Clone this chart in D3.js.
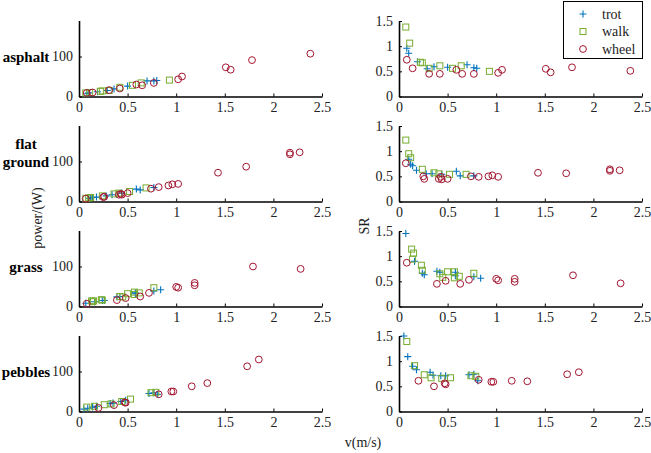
<!DOCTYPE html>
<html>
<head>
<meta charset="utf-8">
<script src="https://cdn.jsdelivr.net/npm/d3@7"></script>
<style>
  body { margin: 0; background: #fff; }
  svg text { font-family: "Liberation Serif", "Times New Roman", serif !important; }
</style>
</head>
<body>
<div id="chart"></div>
<script>
// terrains (rows) and gaits (series)
const terrains = [["asphalt"], ["flat", "ground"], ["grass"], ["pebbles"]];
const gaits = ["trot", "walk", "wheel"];
const xTicks = [0, 0.5, 1, 1.5, 2, 2.5];
const powerTicks = [0, 100];
const srTicks = [0, 0.5, 1, 1.5];

// speed v (m/s), one inner array per terrain
const trotV = [
  [0.08, 0.10, 0.19, 0.29, 0.36, 0.50, 0.70, 0.77, 0.80],
  [0.10, 0.12, 0.14, 0.18, 0.28, 0.34, 0.44, 0.59, 0.63, 0.77],
  [0.07, 0.16, 0.24, 0.26, 0.39, 0.42, 0.58, 0.58, 0.77, 0.84],
  [0.05, 0.09, 0.14, 0.18, 0.32, 0.35, 0.43, 0.48, 0.72, 0.77, 0.81]
];
const trotP = [
  [7, 9, 12, 15, 19, 26, 39, 39, 40],
  [8, 9, 10, 11, 14, 17, 21, 31, 29, 35],
  [8, 12, 15, 15, 24, 25, 34, 32, 39, 42],
  [6, 8, 11, 13, 20, 21, 25, 28, 45, 47, 43]
];
const trotSR = [
  [0.96, 0.86, 0.69, 0.55, 0.59, 0.58, 0.63, 0.57, 0.56],
  [0.84, 0.74, 0.71, 0.62, 0.55, 0.55, 0.54, 0.60, 0.51, 0.51],
  [1.45, 0.90, 0.66, 0.63, 0.70, 0.68, 0.68, 0.61, 0.59, 0.56],
  [1.50, 1.09, 0.90, 0.83, 0.78, 0.72, 0.71, 0.71, 0.73, 0.74, 0.61]
];

const walkV = [
  [0.07, 0.11, 0.22, 0.24, 0.31, 0.42, 0.55, 0.64, 0.93],
  [0.07, 0.10, 0.12, 0.24, 0.36, 0.41, 0.52, 0.69],
  [0.13, 0.15, 0.14, 0.23, 0.24, 0.42, 0.45, 0.50, 0.57, 0.57, 0.62, 0.77],
  [0.08, 0.16, 0.26, 0.33, 0.44, 0.53, 0.74, 0.79]
];
const walkP = [
  [9, 10, 13, 14, 15, 23, 28, 34, 41],
  [8, 9, 10, 14, 19, 21, 25, 34],
  [14, 14, 12, 17, 16, 25, 24, 32, 36, 30, 34, 47],
  [11, 13, 17, 19, 25, 31, 47, 48]
];
const walkSR = [
  [1.38, 1.06, 0.68, 0.67, 0.56, 0.61, 0.56, 0.61, 0.50],
  [1.22, 0.95, 0.87, 0.64, 0.57, 0.55, 0.54, 0.54],
  [1.14, 1.06, 0.94, 0.82, 0.72, 0.65, 0.58, 0.69, 0.69, 0.57, 0.60, 0.66],
  [1.39, 0.91, 0.73, 0.67, 0.66, 0.67, 0.71, 0.70]
];

const wheelV = [
  [0.08, 0.14, 0.31, 0.42, 0.59, 0.65, 0.77, 1.02, 1.06, 1.51, 1.56, 1.78, 2.38],
  [0.07, 0.25, 0.26, 0.41, 0.43, 0.44, 0.50, 0.74, 0.82, 0.92, 0.96, 1.02, 1.43, 1.72, 2.17, 2.17, 2.27],
  [0.08, 0.39, 0.48, 0.63, 0.72, 1.00, 1.02, 1.19, 1.19, 1.79, 2.28],
  [0.20, 0.36, 0.47, 0.48, 0.82, 0.95, 0.97, 1.16, 1.32, 1.73, 1.85]
];
const wheelP = [
  [9, 10, 16, 20, 30, 28, 34, 43, 50, 73, 67, 91, 107],
  [7, 11, 12, 17, 19, 17, 21, 32, 36, 40, 43, 44, 72, 87, 122, 118, 123],
  [7, 16, 21, 25, 34, 49, 47, 59, 53, 100, 94],
  [9, 16, 23, 22, 43, 50, 50, 63, 71, 113, 130]
];
const wheelSR = [
  [0.73, 0.56, 0.45, 0.45, 0.53, 0.45, 0.45, 0.47, 0.53, 0.55, 0.48, 0.58, 0.51],
  [0.76, 0.50, 0.45, 0.45, 0.49, 0.44, 0.45, 0.50, 0.49, 0.50, 0.52, 0.49, 0.57, 0.56, 0.64, 0.61, 0.62],
  [0.87, 0.45, 0.51, 0.45, 0.53, 0.55, 0.52, 0.55, 0.49, 0.62, 0.46],
  [0.61, 0.50, 0.56, 0.54, 0.63, 0.59, 0.59, 0.61, 0.60, 0.74, 0.78]
];

const seriesV = [trotV, walkV, wheelV];
const seriesP = [trotP, walkP, wheelP];
const seriesSR = [trotSR, walkSR, wheelSR];
const colors = ["#0072BD", "#77AC30", "#A2142F"];

const width = 651, height = 453;
const svg = d3.select("#chart").append("svg")
  .attr("width", width)
  .attr("height", height)
  .attr("font-family", "Liberation Serif, serif");

const panelH = 76, rowStep = 105, firstBottom = 96.5;

const xLeft = d3.scaleLinear().domain([0, 2.5]).range([79, 322]);
const xRight = d3.scaleLinear().domain([0, 2.5]).range([399, 642]);

function marker(g, kind, color) {
  if (kind === 0) {
    g.append("path").attr("d", "M-3.5,0H3.5M0,-3.5V3.5")
      .attr("stroke", color).attr("stroke-width", 1.1).attr("fill", "none");
  } else if (kind === 1) {
    g.append("rect").attr("x", -3).attr("y", -3).attr("width", 6).attr("height", 6)
      .attr("stroke", color).attr("stroke-width", 1).attr("fill", "none");
  } else {
    g.append("circle").attr("r", 3.4)
      .attr("stroke", color).attr("stroke-width", 1).attr("fill", "none");
  }
}

function styleAxis(g) {
  g.attr("font-family", null);
  g.selectAll("path").attr("stroke", "#000").attr("stroke-width", 1.6);
  g.selectAll("line").attr("stroke", "#000").attr("stroke-width", 1);
  g.selectAll("text").attr("font-size", 14).attr("fill", "#222");
}

terrains.forEach((lines, t) => {
  const bottom = firstBottom + t * rowStep;
  const top = bottom - panelH;
  const yP = d3.scaleLinear().domain([0, 190]).range([bottom, top]);
  const yS = d3.scaleLinear().domain([0, 1.5]).range([bottom, top + 0.5]);

  // left: power
  const gl = svg.append("g");
  gl.append("g").attr("transform", `translate(0,${bottom})`)
    .call(d3.axisBottom(xLeft).tickValues(xTicks).tickFormat(d3.format("")).tickSize(-3).tickSizeOuter(0).tickPadding(6))
    .call(styleAxis);
  gl.append("g").attr("transform", `translate(${xLeft(0)},0)`)
    .call(d3.axisLeft(yP).tickValues(powerTicks).tickSize(-3).tickSizeOuter(0).tickPadding(6))
    .call(styleAxis);

  // right: SR
  const gr = svg.append("g");
  gr.append("g").attr("transform", `translate(0,${bottom})`)
    .call(d3.axisBottom(xRight).tickValues(xTicks).tickFormat(d3.format("")).tickSize(-3).tickSizeOuter(0).tickPadding(6))
    .call(styleAxis);
  gr.append("g").attr("transform", `translate(${xRight(0)},0)`)
    .call(d3.axisLeft(yS).tickValues(srTicks).tickFormat(d3.format("")).tickSize(-3).tickSizeOuter(0).tickPadding(6))
    .call(styleAxis);

  gaits.forEach((name, s) => {
    const pts = seriesV[s][t].map((v, i) => ({v: v, p: seriesP[s][t][i], sr: seriesSR[s][t][i]}));
    gl.append("g").selectAll("g").data(pts).join("g")
      .attr("transform", d => `translate(${xLeft(d.v)},${yP(d.p)})`)
      .each(function() { marker(d3.select(this), s, colors[s]); });
    gr.append("g").selectAll("g").data(pts).join("g")
      .attr("transform", d => `translate(${xRight(d.v)},${yS(d.sr)})`)
      .each(function() { marker(d3.select(this), s, colors[s]); });
  });

  // terrain label, bold, centred
  const lab = svg.append("text")
    .attr("x", 26)
    .attr("text-anchor", "middle")
    .attr("font-weight", "bold")
    .attr("font-size", 15)
    .attr("fill", "#000");
  const cy = yP(100) + 5 - (lines.length - 1) * 18;
  lines.forEach((ln, k) => {
    lab.append("tspan").attr("x", 26).attr("y", cy + k * 18).text(ln);
  });
});

// axis titles
svg.append("text")
  .attr("transform", "translate(42,218) rotate(-90)")
  .attr("text-anchor", "middle")
  .attr("font-size", 14)
  .attr("fill", "#222")
  .text("power/(W)");

svg.append("text")
  .attr("transform", "translate(369,226) rotate(-90)")
  .attr("text-anchor", "middle")
  .attr("font-size", 14)
  .attr("fill", "#222")
  .text("SR");

svg.append("text")
  .attr("x", 363).attr("y", 447)
  .attr("text-anchor", "middle")
  .attr("font-size", 14)
  .attr("fill", "#222")
  .text("v(m/s)");

// legend
const leg = svg.append("g");
leg.append("rect")
  .attr("x", 563.5).attr("y", 1.5).attr("width", 79).attr("height", 57)
  .attr("fill", "#fff").attr("stroke", "#000").attr("stroke-width", 1);
gaits.forEach((name, s) => {
  const ly = 14 + s * 17.5;
  const mg = leg.append("g").attr("transform", `translate(583,${ly})`);
  marker(mg, s, colors[s]);
  leg.append("text")
    .attr("x", 602).attr("y", ly + 4.5)
    .attr("font-size", 14)
    .attr("fill", "#222")
    .text(name);
});
</script>
</body>
</html>
